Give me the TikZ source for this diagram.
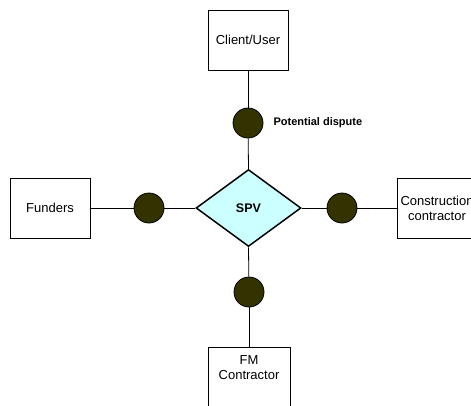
\documentclass[tikz,border=0pt]{standalone}
\usepackage{fontspec}
\setmainfont{Liberation Sans}
\usetikzlibrary{shapes.geometric}
\definecolor{disputefill}{HTML}{333300}
\definecolor{spvfill}{HTML}{CCFFFF}
\tikzset{
  party/.style={draw=black, line width=0.8pt, fill=white, rectangle,
    minimum width=80pt, minimum height=60pt, inner sep=0pt, align=center,
    font=\fontsize{13}{15}\selectfont},
  dispute/.style={draw=black, line width=0.8pt, fill=disputefill, circle,
    minimum size=30pt, inner sep=0pt},
  hub/.style={draw=black, line width=1.5pt, fill=spvfill, diamond,
    minimum width=105pt, minimum height=77pt, inner sep=0pt,
    font=\bfseries\fontsize{12.5}{15}\selectfont},
  link/.style={draw=black, line width=0.8pt}
}
\begin{document}
\begin{tikzpicture}[x=1pt, y=-1pt]
  \clip (0,0) rectangle (471,405);
  \fill[white] (0,0) rectangle (471,405);

  % parties around the SPV
  \node[party] (client) at (248,40) {Client/User};
  \node[party] (funders) at (50,208) {Funders};
  \node[party] (constr) at (437,208) {Construction\\contractor};
  \node[party, minimum width=82pt,
        label={[anchor=north, yshift=-5pt, align=center,
                font=\fontsize{13}{15}\selectfont]north:FM\\Contractor}]
        (fm) at (249,377) {};

  % special purpose vehicle
  \node[hub] (spv) at (248.5,208) {SPV};

  % potential dispute points
  \node[dispute] (dtop) at (248,123) {};
  \node[dispute] (dleft) at (149,208) {};
  \node[dispute] (dright) at (342,208) {};
  \node[dispute] (dbot) at (249,292) {};

  \node[anchor=west, font=\bfseries\fontsize{11}{13}\selectfont] (lbl)
        at (270,123) {Potential dispute};

  % connectors
  \draw[link] (client) -- (dtop);
  \draw[link] (dtop) -- (spv.north);
  \draw[link] (funders) -- (dleft);
  \draw[link] (dleft) -- (spv.west);
  \draw[link] (spv.east) -- (dright);
  \draw[link] (dright) -- (constr);
  \draw[link] (spv.south) -- (dbot);
  \draw[link] (dbot) -- (fm);
\end{tikzpicture}
\end{document}
